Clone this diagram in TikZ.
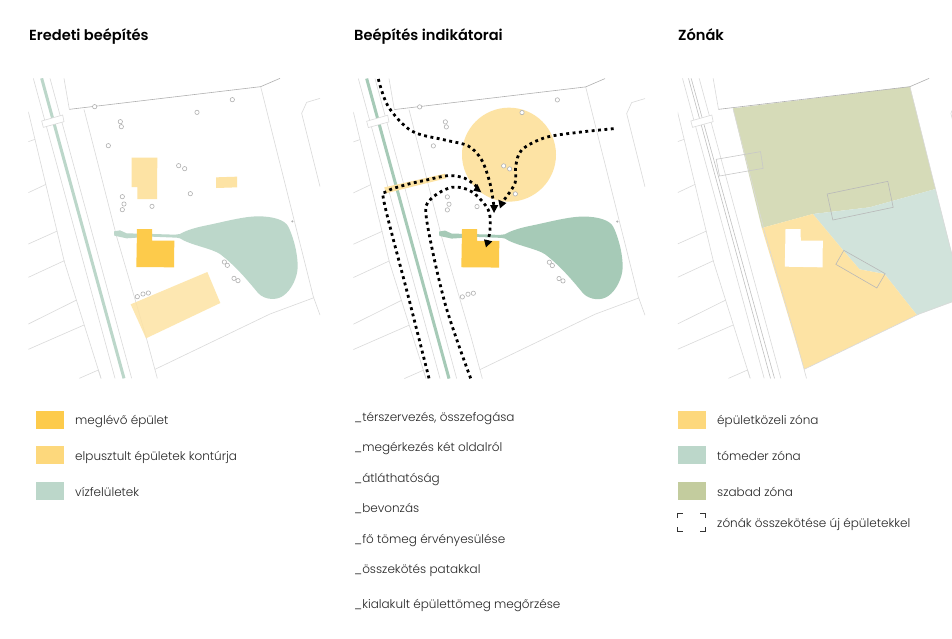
\documentclass[tikz,border=0pt]{standalone}
\usepackage{fontspec}
\setmainfont{Poppins}[UprightFont=* Light,BoldFont=* SemiBold]
\usetikzlibrary{arrows.meta}
\definecolor{exist}{HTML}{FDCB4B}
\definecolor{faded}{HTML}{FDE3A4}
\definecolor{water}{HTML}{BCD7CA}
\definecolor{waterb}{HTML}{A6CAB7}
\definecolor{olive}{HTML}{D6DBB8}
\definecolor{olivel}{HTML}{C3CC9E}
\definecolor{yell}{HTML}{FDD87C}
\definecolor{teal}{HTML}{D1E3DB}
\definecolor{lg}{HTML}{DADADA}
\definecolor{mg}{HTML}{B0B0B0}
\tikzset{
 basel/.style={draw=lg,line width=.6pt},
 border/.style={draw=mg,line width=.6pt},
 treec/.style={draw=mg,fill=white,line width=.6pt},
 panel/.style={x=0.33333pt,y=-0.33333pt},
 title/.style={anchor=base west,font=\bfseries\fontsize{14.6}{18}\selectfont,text=black,inner sep=0pt},
 leg/.style={anchor=base west,font=\fontsize{12}{14}\selectfont,text=black!85,inner sep=0pt},
 swatch/.style={minimum width=28pt,minimum height=18pt,inner sep=0pt,anchor=north west},
 route/.style={draw=black,line width=2.8pt,dash pattern=on 2.9pt off 3.5pt},
 tiphead/.style={fill=black,draw=none},
}
\newcommand{\baselines}{%
 \draw[basel] (25,125)--(133,575)--(243,925);
 \draw[basel] (40,25)--(285,925);
 \draw[basel] (90,25)--(335,925);
 \draw[basel] (132,25)--(148,118);
 \draw[basel] (192,118)--(290,500)--(378,800)--(412,925);
 \draw[basel] (722,50)--(880,680)--(900,735);
 \draw[basel] (405,898)--(750,732)--(882,683);
 \draw[basel] (900,85)--(860,97)--(845,130)--(900,350);
 \draw[basel] (25,215)--(45,208);
 \draw[basel] (25,368)--(78,343);
 \draw[basel] (25,522)--(112,483);
 \draw[basel] (25,622)--(133,572);
 \draw[basel] (25,762)--(170,690);
 \draw[basel] (25,838)--(192,765);
 \draw[basel] (178,925)--(235,900)--(243,925);
 \draw[border] (148,118)--(722,50)--(780,25);
}
\newcommand{\bridge}{\draw[basel,fill=white] (65,153)--(128,135)--(132,155)--(70,172)--cycle;}
\newcommand{\trees}{%
 \foreach \p in {(224,110),(301,155),(304,170),(265,227),(531,127),(637,89),(476,287),(494,296),(511,371),(396,409),(307,380),(312,402),(307,419),(613,576),(622,586),(642,625),(654,632),(352,680),(369,672),(385,669)}
  {\draw[treec] \p circle[radius=6.5];}
 \fill[mg] (817,454) circle[radius=3.5];
}
\newcommand{\pond}[1]{%
 \fill[#1] (282,484)--(300,481)--(320,490)--(400,492)--(465,494)--(480,492)
  .. controls (500,480) and (530,472) .. (560,466)
  .. controls (610,456) and (670,439) .. (715,439)
  .. controls (760,439) and (795,450) .. (805,470)
  .. controls (815,490) and (833,540) .. (833,590)
  .. controls (833,620) and (815,660) .. (790,677)
  .. controls (770,692) and (735,690) .. (715,670)
  .. controls (690,640) and (650,590) .. (600,552)
  .. controls (575,535) and (510,525) .. (480,505)
  --(470,503)--(395,500)--(320,505)--(283,497)--cycle;
}
\begin{document}
\begin{tikzpicture}[x=1pt,y=-1pt]
\useasboundingbox (0,0) rectangle (952,638);
\fill[white] (0,0) rectangle (952,638);
% panel 1
\begin{scope}[shift={(20,70)},panel]
 \clip (25,25) rectangle (900,925);
 \baselines
 \draw[water,line width=3pt] (65,25)--(312,925);
 \bridge
 \pond{water}
 \fill[faded] (335,263)--(412,263)--(411,387)--(352,387)--(352,351)--(335,351)--cycle;
 \fill[faded] (588,322)--(651,320)--(651,352)--(588,354)--cycle;
 \fill[faded,opacity=.85] (332,703)--(562,606)--(601,699)--(378,805)--cycle;
 \fill[exist] (351,477)--(396,477)--(396,512)--(463,512)--(462,592)--(349,591)--cycle;
 \trees
\end{scope}
% panel 2
\begin{scope}[shift={(345,70)},panel]
 \clip (25,25) rectangle (900,930);
 \begin{scope}[shift={(0,0.7)}]
 \baselines
 \draw[waterb,line width=3pt] (65,25)--(312,925);
 \bridge
 \end{scope}
 \fill[faded] (492,254) circle[radius=141];
 \fill[faded] (118,352)--(300,311)--(303,325)--(122,370)--cycle;
 \begin{scope}[shift={(0,0.7)}]
 \pond{waterb}
 \fill[exist] (351,477)--(396,477)--(396,512)--(463,512)--(462,592)--(349,591)--cycle;
 \trees
 \end{scope}
 \draw[route] plot[smooth,tension=.55] coordinates {(100,27)(130,110)(200,183)(300,210)(370,228)(410,270)(435,340)(447,410)};
 \fill[tiphead] (435,405)--(460,405)--(447,429)--cycle;
 \draw[route] plot[smooth,tension=.55] coordinates {(806,176)(700,187)(600,203)(530,240)(512,290)(510,340)(473,395)};
 \fill[tiphead] (460,389)--(484,399)--(465,415)--cycle;
 \draw[route] plot[smooth,tension=.55] coordinates {(252,925)(190,680)(118,400)(125,365)(180,345)(240,331)(310,317)(360,325)(398,352)};
 \fill[tiphead] (397,342)--(409,367)--(385,362)--cycle;
 \draw[route] plot[smooth,tension=.55] coordinates {(377,925)(300,700)(245,450)(255,390)(320,352)(380,365)(430,420)(435,480)(428,512)};
 \fill[tiphead] (417,508)--(442,514)--(423,532)--cycle;
\end{scope}
% panel 3
\begin{scope}[shift={(669.5,70)},panel]
 \clip (25,25) rectangle (860,925);
 \fill[olive] (190,115)--(722,50)--(798,357)--(600,412)--(430,432)--(277,474)--cycle;
 \fill[teal] (430,432)--(600,412)--(798,357)--(860,600)--(860,692)--(742,735)--(645,612)--(570,598)--(520,540)--cycle;
 \fill[faded] (277,474)--(430,432)--(520,540)--(570,598)--(645,612)--(742,735)--(404,898)--cycle;
 \fill[white] (348,477)--(393,477)--(394,512)--(460,512)--(459,592)--(346,590)--cycle;
 \begin{scope}[shift={(-1,0)}]
 \baselines
 \draw[basel,draw=mg!80] (58,25)--(304,925);
 \draw[basel,draw=mg!80] (66,25)--(316,925);
 \bridge
 \end{scope}
 \draw[basel,draw=mg!70] (140,268)--(273,245)--(281,295)--(150,318)--cycle;
 \draw[basel,draw=mg!90] (473,372)--(655,334)--(671,412)--(490,450)--cycle;
 \draw[basel,draw=mg!90] (523,541)--(647,611)--(622,654)--(499,583)--cycle;
\end{scope}
% titles
\node[title] (t1) at (29,40) {Eredeti beépítés};
\node[title] (t2) at (354,40) {Beépítés indikátorai};
\node[title] (t3) at (678,40) {Zónák};
% legend 1
\node[swatch,fill=exist] (a1) at (36,411) {};
\node[swatch,fill=yell] (a2) at (36,446) {};
\node[swatch,fill=water] (a3) at (36,482) {};
\node[leg] (la1) at (75,424) {meglévő épület};
\node[leg] (la2) at (75,460) {elpusztult épületek kontúrja};
\node[leg] (la3) at (75,496) {vízfelületek};
% legend 2
\node[leg] (m1) at (354,421) {\_térszervezés, összefogása};
\node[leg] (m2) at (354,451) {\_megérkezés két oldalról};
\node[leg] (m3) at (354,482) {\_átláthatóság};
\node[leg] (m4) at (354,512) {\_bevonzás};
\node[leg] (m5) at (354,543) {\_fő tömeg érvényesülése};
\node[leg] (m6) at (354,573) {\_összekötés patakkal};
\node[leg] (m7) at (354,608) {\_kialakult épülettömeg megőrzése};
% legend 3
\node[swatch,fill=yell] (c1) at (678,410.5) {};
\node[swatch,fill=water] (c2) at (678,446) {};
\node[swatch,fill=olivel] (c3) at (678,482) {};
\node[leg] (lc1) at (717,424) {épületközeli zóna};
\node[leg] (lc2) at (717,460) {tómeder zóna};
\node[leg] (lc3) at (717,496) {szabad zóna};
\node[leg] (lc4) at (717,527) {zónák összekötése új épületekkel};
\draw[black!80,line width=.8pt] (677.5,518)--(677.5,513.5)--(683,513.5);
\draw[black!80,line width=.8pt] (700,513.5)--(705.5,513.5)--(705.5,518);
\draw[black!80,line width=.8pt] (677.5,527)--(677.5,531.5)--(683,531.5);
\draw[black!80,line width=.8pt] (700,531.5)--(705.5,531.5)--(705.5,527);
\end{tikzpicture}
\end{document}
